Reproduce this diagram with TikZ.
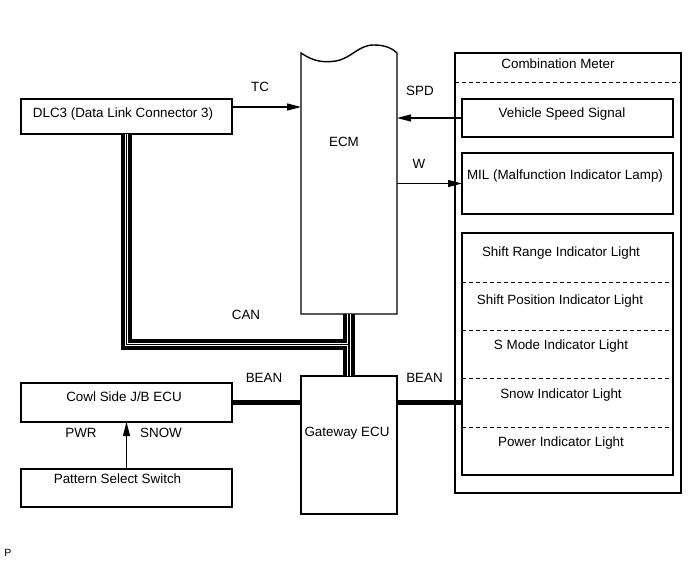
\documentclass[tikz,border=0pt]{standalone}
\usepackage{fontspec}
\setmainfont{Liberation Sans}
\usetikzlibrary{arrows.meta}
\begin{document}
\begin{tikzpicture}[x=1pt,y=-1pt,
  box/.style={draw, line width=1.4pt, inner sep=0pt, outer sep=0pt, anchor=north west},
  shell/.style={inner sep=0pt, outer sep=0pt, anchor=north west},
  txt/.style={inner sep=0pt, text height=9.4pt, text depth=0pt, font=\fontsize{13.4}{15}\selectfont},
  sig/.style={line width=1.2pt, -{Triangle[length=14pt,width=7pt]}},
  bean/.style={line width=5.7pt},
  sep/.style={line width=1pt, dash pattern=on 4pt off 3pt},
  canouter/.style={line width=11.5pt, black},
  caninner/.style={line width=3.8pt, white},
  canwire/.style={line width=1.1pt, black},
]
\useasboundingbox (0,0) rectangle (695,564);

% boxes
\node[box, minimum width=211, minimum height=35] (dlc) at (21,99) {};
\node[box, minimum width=211, minimum height=39] (cowl) at (21,383) {};
\node[box, minimum width=211, minimum height=38] (pss) at (21,469) {};
\node[box, minimum width=96, minimum height=138] (gw) at (301,376) {};
\node[box, minimum width=226, minimum height=440] (cm) at (455,53) {};
\node[box, minimum width=211, minimum height=38] (vss) at (462,99) {};
\node[box, minimum width=211, minimum height=61] (mil) at (462,153) {};
\node[box, minimum width=211, minimum height=242] (ind) at (462,233) {};

% ECM with wavy top
\node[shell, minimum width=96, minimum height=261] (ecm) at (301,53) {};
\draw[line width=1.4pt] (ecm.north west)
  .. controls (313,61) and (322,63) .. (336,61)
  .. controls (352,58) and (358,45) .. (374,45)
  .. controls (386,45) and (393,49) .. (ecm.north east)
  -- (ecm.south east) -- (ecm.south west) -- cycle;

% dashed separators
\draw[sep] (cm.west |- 0,83) coordinate (cmsepL) -- (cm.east |- 0,83) coordinate (cmsepR);
\foreach \yy in {282,330,378,427}
  \draw[sep] (ind.west |- 0,\yy) -- (ind.east |- 0,\yy);

% texts in boxes
\node[txt] (tdlc) at (123,113) {DLC3 (Data Link Connector 3)};
\node[txt] (tecm) at (344,142) {ECM};
\node[txt] (tcm) at (558,64) {Combination Meter};
\node[txt] (tvss) at (562,113) {Vehicle Speed Signal};
\node[txt] (tmil) at (565,175) {MIL (Malfunction Indicator Lamp)};
\node[txt] (tsr) at (561,252) {Shift Range Indicator Light};
\node[txt] (tsp) at (560,300) {Shift Position Indicator Light};
\node[txt] (tsm) at (561,345) {S Mode Indicator Light};
\node[txt] (tsn) at (561,394) {Snow Indicator Light};
\node[txt] (tpw) at (561,442) {Power Indicator Light};
\node[txt] (tgw) at (347,432) {Gateway ECU};
\node[txt] (tcowl) at (124,397) {Cowl Side J/B ECU};
\node[txt] (tpss) at (117.5,479) {Pattern Select Switch};

% signal arrows
\draw[sig] ([yshift=9.5pt]dlc.east) -- ([yshift=9.5pt]dlc.east -| ecm.west);
\draw[sig] (vss.west) -- (vss.west -| ecm.east);
\draw[sig] (mil.west -| ecm.east) -- (mil.west);
\draw[sig] (pss.north) -- (cowl.south);

% BEAN
\draw[bean] (cowl.east) -- (cowl.east -| gw.west);
\draw[bean] (gw.east |- cowl.east) -- (cowl.east -| ind.west);

% CAN
\coordinate (canrow) at (0,344.5);
\draw[canouter] (dlc.south) -- (dlc.south |- canrow) -- (ecm.south |- canrow);
\draw[canouter] (ecm.south) -- (gw.north);
\draw[caninner] (dlc.south) -- (dlc.south |- canrow) -- (ecm.south |- canrow);
\draw[caninner] (ecm.south) -- (gw.north);
\draw[canwire] (dlc.south) -- (dlc.south |- canrow) -- (ecm.south |- canrow);
\draw[canwire] (ecm.south) -- (gw.north);

% connector labels
\node[txt] (ltc) at (260,87) {TC};
\node[txt] (lspd) at (420,91) {SPD};
\node[txt] (lw) at (419,164) {W};
\node[txt] (lcan) at (246,315) {CAN};
\node[txt] (lbean1) at (264,378) {BEAN};
\node[txt] (lbean2) at (424.5,378) {BEAN};
\node[txt] (lpwr) at (81,433) {PWR};
\node[txt] (lsnow) at (161,433) {SNOW};
\node[inner sep=0pt, text height=7.5pt, text depth=0pt, font=\fontsize{10.5}{12}\selectfont] (lp) at (8,553) {P};
\end{tikzpicture}
\end{document}
